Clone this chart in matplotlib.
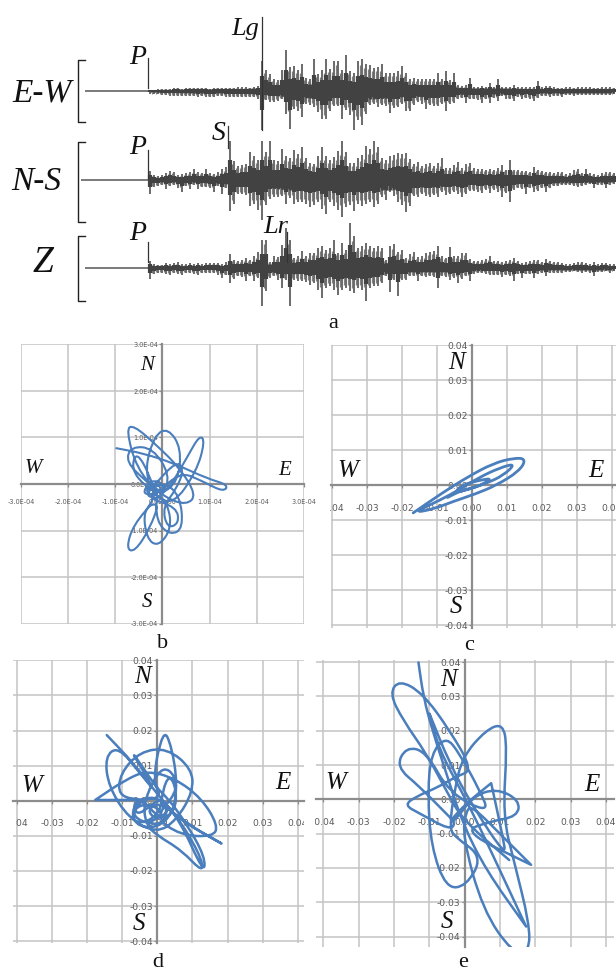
import numpy as np
import matplotlib
matplotlib.use("Agg")
import matplotlib.pyplot as plt
from matplotlib.path import Path
from matplotlib.patches import PathPatch
from matplotlib.transforms import Bbox

W, H = 616, 972
SERIF = ['Liberation Serif', 'DejaVu Serif']

# ---- seismogram amplitudes (px above / below each trace baseline, one per sample) ----
EW_up = [1,1,2,2,2,2,3,3,2,3, 3,3,3,3,3,2,3,3,3,3, 3,3,4,4,4,3,4,5,
         30,21,17,12,11,21,41,24,25,21,27,13,12,32,17,21,32,22,30,30,21,36,20,18,30,32,27,26,23,24,
         27,18,18,18,20,25,18,12,13,12, 12,12,12,12,18,12,20,11,18,6, 5,6,13,4,4,5,4,8,4,12,
         4,4,4,6,4,4,4,4,4,10, 4,5,5,4,3,3,4,4,3,4, 4,4,4,3,3,4,4,4,3]
EW_down = [3,3,3,4,4,5,5,5,5,5, 5,5,6,5,6,6,6,5,5,6, 6,6,6,6,6,6,6,8,
           39,9,11,11,10,8,23,38,18,20,26,13,14,16,21,28,28,20,15,15,28,19,24,39,29,34,23,14,13,16,
           14,15,22,17,16,13,20,20,14,11, 13,18,14,15,15,13,20,13,12,8, 7,12,8,8,9,12,8,12,7,10,
           5,8,8,10,6,8,7,8,10,7, 5,5,6,5,5,6,4,4,5,4, 4,4,4,4,4,4,4,4,3]
NS_up = [9,5,4,5,7,9,8,5,6,7, 8,11,8,7,11,7,6,8,11,13,
         39,19,14,15,16,28,24,20,39,28, 39,20,19,31,24,22,30,26,33,22,
         17,16,24,33,24,20,23,29,39,28, 17,17,22,25,34,31,39,33,
         22,20,24,25,27,26,27,21,16,18, 14,16,17,14,17,22,12,12,15,18,
         12,16,17,12,11,11,10,11,10,12, 15,10,20,10,10,9,9,8,13,10,
         9,8,8,7,8,8,6,7,10,11, 7,11,7,6,5,7,8,8,7]
NS_down = [14,7,6,5,9,6,5,8,12,6, 9,5,9,7,7,8,12,6,14,8,
           31,24,14,14,15,26,24,30,40,25, 19,17,17,16,24,18,24,22,22,24,
           27,25,22,29,34,22,26,30,37,27, 25,31,24,26,24,22,27,24,
           17,20,12,16,22,25,32,26,16,17, 14,16,17,15,17,12,15,14,12,14,
           17,14,11,11,12,13,10,13,10,12, 17,13,22,10,8,9,14,8,12,11,
           8,12,8,6,6,5,5,5,6,7, 6,5,4,8,5,5,8,5,4]
Z_up = [7,4,3,3,5,4,5,6,4,4, 5,4,5,4,5,5,5,5,4,6,
        14,8,7,8,10,8,12,16,28,28, 6,12,11,23,40,28,10,12,17,12,
        15,15,20,22,18,20,28,15,25,18, 45,32,20,22,25,22,20,22,
        20,8,22,24,16,18,10,14,16,11, 12,15,16,17,22,12,10,21,12,12,
        15,15,9,7,7,8,9,12,7,7, 6,7,8,10,7,5,6,7,8,8,
        6,9,7,6,6,5,4,4,5,6, 6,5,4,6,4,5,5,4,4]
Z_down = [11,6,5,5,6,7,5,6,7,5, 5,6,7,5,5,5,5,7,10,7,
          15,11,8,9,13,8,13,10,38,23, 10,8,12,20,12,38,12,13,13,14,
          17,15,22,30,20,18,22,27,22,20, 23,25,20,22,33,20,18,18,
          15,8,24,12,28,12,12,8,8,13, 8,9,8,9,20,8,9,12,10,15,
          11,8,13,6,5,5,6,7,7,7, 9,7,8,13,6,10,6,6,10,6,
          5,8,5,5,5,5,4,4,3,4, 5,4,5,8,4,4,3,5,3]

# dense core half-widths of each trace
core_pos = [150,190,230,258,270,290,310,330,350,370,390,410,430,450,470,500,550,614]
EW_core = [1,2,2,3,4,6,7,6,7,8,7,5,6,4,3,3,2,2]
NS_core = [2,2,4,7,8,10,8,9,9,10,10,7,7,6,4,4,3,2]
Z_core = [1,1,2,4,4,6,5,7,8,7,5,4,4,4,3,2,2,2]

# ---- particle-motion paths, read in axis units (×1e-4 for b, ×0.01 for c, d, e) ----
b_x = [-0.98,-0.98,-0.41,0.23,0.94,1.40,1.29,0.87,0.37,-0.13,0.09,0.51,0.79,0.90,0.72,0.23,-0.20,-0.38,-0.16,0.12,
       0.40,0.33,-0.06,-0.55,-0.77,-0.62,-0.13,0.37,0.72,0.51,0.09,-0.34,-0.78,-0.66,-0.20,0.16,0.01,-0.41,-0.66,-0.55,
       -0.27,-0.13,-0.62,-0.77,-0.59,-0.27,-0.06,-0.41,-0.34,-0.09,0.19,0.12,-0.13,-0.13,0.16,0.44,0.37,0.01,-0.30,-0.27,
       -0.06,-0.20,-0.38,-0.13,0.01,-0.45,-0.25,0.05,-0.05,-0.30,0.30,0.35,0.10,0.00,0.30,0.45,0.30,-0.20,-0.35,-0.15]
b_y = [0.77,0.77,0.66,0.45,0.12,-0.02,-0.17,0.05,0.27,-0.24,-0.17,0.55,1.06,0.91,0.27,-0.45,-0.24,0.34,1.06,1.20,
       0.77,0.05,-0.24,0.34,1.17,1.27,0.84,0.34,-0.24,-0.45,-0.31,0.05,0.48,0.81,0.77,0.19,-0.24,-0.02,0.34,0.70,
       0.19,-0.31,-0.88,-1.39,-1.46,-0.96,-0.38,-0.53,-1.17,-1.35,-0.96,-0.45,-0.17,-0.81,-1.10,-0.96,-0.24,0.05,-0.17,-0.02,
       -0.17,-0.27,-0.13,0.05,-0.17,-0.25,0.10,0.00,-0.30,-0.30,-0.50,-0.85,-0.95,-0.50,-0.10,0.30,0.50,-0.05,-0.25,-0.30]
c_x = [-1.68,-1.68,-0.85,-0.10,0.60,1.20,1.55,1.35,0.70,0.10,-0.50,-1.10,-1.68,-0.90,-0.35,0.20,0.80,1.25,0.90,0.40,-0.10,-0.50,-0.30,0.20,0.60,0.15,-0.30,-0.70]
c_y = [-0.79,-0.79,-0.22,0.25,0.62,0.78,0.75,0.40,0.00,-0.25,-0.45,-0.68,-0.79,-0.42,-0.12,0.22,0.50,0.62,0.28,0.05,-0.12,-0.22,0.00,0.14,0.20,-0.05,-0.15,-0.35]
d_x = [-1.44,-1.44,-0.68,-0.02,0.64,1.33,1.36,0.83,0.27,-0.16,0.17,0.41,0.57,0.45,-0.02,-0.64,-0.73,-0.21,0.31,0.17,
       -0.49,-0.73,-0.35,-1.11,-1.06,-0.49,0.27,0.98,1.02,0.55,-0.02,-0.82,-1.39,-1.49,-1.11,-0.49,-0.02,-0.82,-0.30,0.17,
       -0.40,-1.77,-1.77,-0.92,-0.30,0.50,1.26,1.73,1.59,0.64,-0.07,0.55,0.50,0.17,-0.16,-0.40,-0.30,-0.02,0.69,1.33,
       1.21,0.45,-0.02,0.64,1.83,1.83,0.83,0.08,-0.30,-0.02,0.36,0.08,-0.55,-0.70,-0.45,0.10,0.50,0.55,0.35,0.15,0.10,-0.35,-0.75,-0.60,-0.15,0.20,-0.20]
d_y = [1.87,1.87,1.07,0.21,-0.55,-2.08,-1.60,-0.65,0.11,0.50,2.07,1.54,0.50,-0.36,-0.79,-0.70,-0.17,0.16,-0.12,-0.70,
       -0.60,-0.31,0.02,0.11,0.78,1.40,1.50,0.92,0.26,-0.55,-0.93,-0.50,0.40,1.26,1.54,0.78,0.21,1.54,0.78,0.11,
       0.02,0.02,0.02,0.59,0.86,0.64,0.07,-0.70,-1.03,-0.98,-0.46,0.21,0.73,0.97,0.50,-0.17,-0.70,-0.98,-1.41,-2.08,
       -1.50,-0.27,0.11,-0.55,-1.22,-1.22,-0.65,-0.03,-0.27,-0.55,-0.27,0.11,-0.45,-0.10,0.05,-0.55,-0.30,0.30,0.75,0.30,-0.30,-0.65,-0.55,-0.15,-0.10,-0.40,-0.60]
e_x = [-1.31,-1.31,-1.17,-0.92,-0.43,-0.06,0.60,1.74,1.74,1.17,0.42,-0.06,-0.72,-1.00,-1.00,-0.43,0.23,1.17,1.08,0.75,
       0.75,0.04,-0.43,-0.25,0.23,0.89,1.55,1.50,0.70,-0.06,1.88,1.88,1.08,0.23,0.04,-0.06,0.51,1.36,1.83,1.83,
       1.41,1.08,1.20,1.08,0.60,-0.06,-0.29,-0.43,-0.29,0.51,0.04,-0.53,-0.95,-1.05,-0.95,-0.53,-0.15,0.42,0.70,-0.43,
       -1.09,-1.66,-1.94,-1.28,-0.53,-0.25,-0.43,-1.28,-1.71,-1.38,-0.72,-0.25,0.23,-0.43,-1.19,-1.85,-2.13,-1.75,-1.09,-0.53,
       -0.06,1.26]
e_y = [3.99,3.99,2.99,2.02,0.47,-0.70,-2.06,-3.71,-3.71,-2.45,-0.80,0.17,1.44,2.50,2.50,1.05,-0.21,-1.67,-1.09,0.47,
       0.47,-0.12,-0.65,-0.60,0.08,0.32,-0.02,-0.50,-0.65,-0.94,-1.91,-1.91,-1.09,-0.21,-0.31,-1.09,-3.22,-4.49,-4.44,-3.61,
       -1.86,-0.50,1.53,2.21,2.02,1.24,0.27,-0.80,-1.09,-1.67,-2.54,-2.59,-1.38,0.17,1.34,1.83,1.34,0.27,-0.41,0.17,
       1.39,1.53,0.95,0.37,-0.41,-0.70,-0.89,-0.41,-0.17,0.08,0.37,0.66,0.85,2.02,3.09,3.48,3.09,2.31,1.34,0.27,
       -0.60,-1.77]

# ---- tick labels ----
small_vals = [-4,-3,-2,-1,0,1,2,3,4]
small_x_labels = ['-0.04','-0.03','-0.02','-0.01','0.00','0.01','0.02','0.03','0.04']
small_y_labels = small_x_labels
b_vals = [-3,-2,-1,0,1,2,3]
b_x_labels = ['-3.0E-04','-2.0E-04','-1.0E-04','0.0E+00','1.0E-04','2.0E-04','3.0E-04']
b_y_labels = b_x_labels

for a, b in [(EW_up, EW_down), (NS_up, NS_down), (Z_up, Z_down)]:
    assert len(a) == len(b) == 117, (len(a), len(b))
for a, b in [(b_x, b_y), (c_x, c_y), (d_x, d_y), (e_x, e_y)]:
    assert len(a) == len(b), (len(a), len(b))

plt.rcParams['font.family'] = ['DejaVu Sans']
fig = plt.figure(figsize=(W/100, H/100), dpi=100, facecolor='white')

GRID = '#c4c4c4'
AXIS = '#8c8c8c'
LAB = '#5a5a5a'
CURVE = '#4a7ebc'


def smooth_path(xs, ys):
    p = np.column_stack([xs, ys])
    verts, codes = [p[0]], [Path.MOVETO]
    for i in range(1, len(p) - 1):
        verts += [p[i], (p[i] + p[i + 1]) / 2]
        codes += [Path.CURVE3, Path.CURVE3]
    verts.append(p[-1]); codes.append(Path.LINETO)
    return Path(np.array(verts), codes)


def panel(box, x0, xs, y0, ys, vals, xlabels, ylabels, px, py, lw, fs, pad_x, clip=None):
    l, r, t, b = box
    ax = fig.add_axes([l/W, 1 - b/H, (r - l)/W, (b - t)/H])
    ax.set_xlim((l - x0)/xs, (r - x0)/xs)
    ax.set_ylim((y0 - b)/ys, (y0 - t)/ys)
    ax.patch.set_alpha(0)
    ax.set_xticks(vals, xlabels)
    ax.set_yticks(vals, ylabels)
    ax.grid(True, color=GRID, lw=1.1)
    ax.set_axisbelow(True)
    for s in ('top', 'right'):
        ax.spines[s].set_visible(False)
    for s in ('left', 'bottom'):
        ax.spines[s].set_position(('data', 0))
        ax.spines[s].set_color(AXIS)
        ax.spines[s].set_linewidth(1.6)
    ax.tick_params(axis='x', length=2.5, width=0.9, color=AXIS, labelsize=fs, labelcolor=LAB, pad=pad_x)
    ax.tick_params(axis='y', length=2.5, width=0.9, color=AXIS, labelsize=fs, labelcolor=LAB, pad=0.5)
    if clip:
        bb = Bbox([[clip[0], 0], [clip[1], H]])
        for lab in ax.get_xticklabels():
            lab.set_clip_box(bb)
            lab.set_clip_on(True)
    ax.add_patch(PathPatch(smooth_path(px, py), fc='none', ec=CURVE, lw=lw,
                           capstyle='round', joinstyle='round', zorder=5))
    return ax


panel((21, 304, 344.5, 623.5), 162.7, 141.5, 484, 139.5, b_vals, b_x_labels, b_y_labels, b_x, b_y, 1.5, 4.7, 8)
panel((331, 616, 345, 628), 472, 35.0, 485, 35.1, small_vals, small_x_labels, small_y_labels,
      c_x, c_y, 2.0, 6.6, 11, clip=(330, 616))
panel((13, 304, 660, 943), 157.3, 35.1, 800.7, 35.1, small_vals, small_x_labels, small_y_labels,
      d_x, d_y, 1.8, 6.6, 11, clip=(16, 304))
panel((316, 614, 660, 947), 464.7, 35.3, 799.3, 34.3, small_vals, small_x_labels, small_y_labels,
      e_x, e_y, 1.8, 6.6, 11, clip=(315, 615))

# ---- full-page layer: seismograms, brackets, annotations ----
page = fig.add_axes([0, 0, 1, 1])
page.set_xlim(0, W)
page.set_ylim(H, 0)
page.axis('off')
page.patch.set_alpha(0)

DARK = '#424242'
samples = 150 + 4*np.arange(117)
for base, up, down, core, start in [(91, EW_up, EW_down, EW_core, 85),
                                    (180, NS_up, NS_down, NS_core, 81),
                                    (268, Z_up, Z_down, Z_core, 85)]:
    u, d, c = np.array(up, float), np.array(down, float), np.array(core, float)
    page.plot([start, 150], [base, base], color='#707070', lw=1.3, solid_capstyle='butt')
    # fainter excursions between samples, under the solid body
    page.vlines(samples[:-1] + 2, base - 0.85*np.minimum(u[:-1], u[1:]),
                base + 0.85*np.minimum(d[:-1], d[1:]), color='#808080', lw=0.9)
    page.vlines(samples, base - u, base + d, color=DARK, lw=1.1)
    page.vlines(samples, base - 0.5*u, base + 0.5*d, color=DARK, lw=3.0)
    page.fill_between(core_pos, base - c, base + c, color=DARK, lw=0)

for top, mid, bot in [(60, 91, 122), (142, 180, 222), (236, 268, 301)]:
    page.plot([85, 78, 78, 85], [top, top, bot, bot], color='#222222', lw=1.0)

for x, y0, y1 in [(148, 58, 88), (148, 150, 178), (148, 242, 262), (228, 126, 148), (262, 17, 130), (287, 232, 262)]:
    page.plot([x, x], [y0, y1], color='#333333', lw=0.9)

seis_labels = [('E-W', 42, 93, 24), ('N-S', 36, 182, 24), ('Z', 43, 263, 27),
               ('P', 138, 57, 20), ('P', 138, 147, 20), ('P', 138, 233, 20),
               ('Lg', 245, 29, 19), ('S', 219, 133, 20), ('Lr', 276, 227, 19)]
for s, x, y, fs in seis_labels:
    page.text(x, y, s, family=SERIF, style='italic', fontsize=fs, ha='center', va='center', color='#111111')

compass = [('W', 33, 468, 15), ('E', 285, 470, 15), ('N', 147, 365, 15), ('S', 147, 602, 15),
           ('W', 348, 471, 18), ('E', 596, 471, 18), ('N', 457, 363, 18), ('S', 456, 607, 18),
           ('W', 32, 786, 18), ('E', 283, 783, 18), ('N', 142, 677, 18), ('S', 139, 924, 18),
           ('W', 336, 783, 18), ('E', 592, 785, 18), ('N', 448, 680, 18), ('S', 447, 922, 18)]
for s, x, y, fs in compass:
    page.text(x, y, s, family=SERIF, style='italic', fontsize=fs, ha='center', va='center', color='#111111')

for s, x, y in [('a', 333, 323), ('b', 163, 643), ('c', 469, 645), ('d', 158, 962), ('e', 463, 962)]:
    page.text(x, y, s, family=SERIF, fontsize=16, ha='center', va='center', color='#111111')

fig.savefig('out.png', dpi=100)
